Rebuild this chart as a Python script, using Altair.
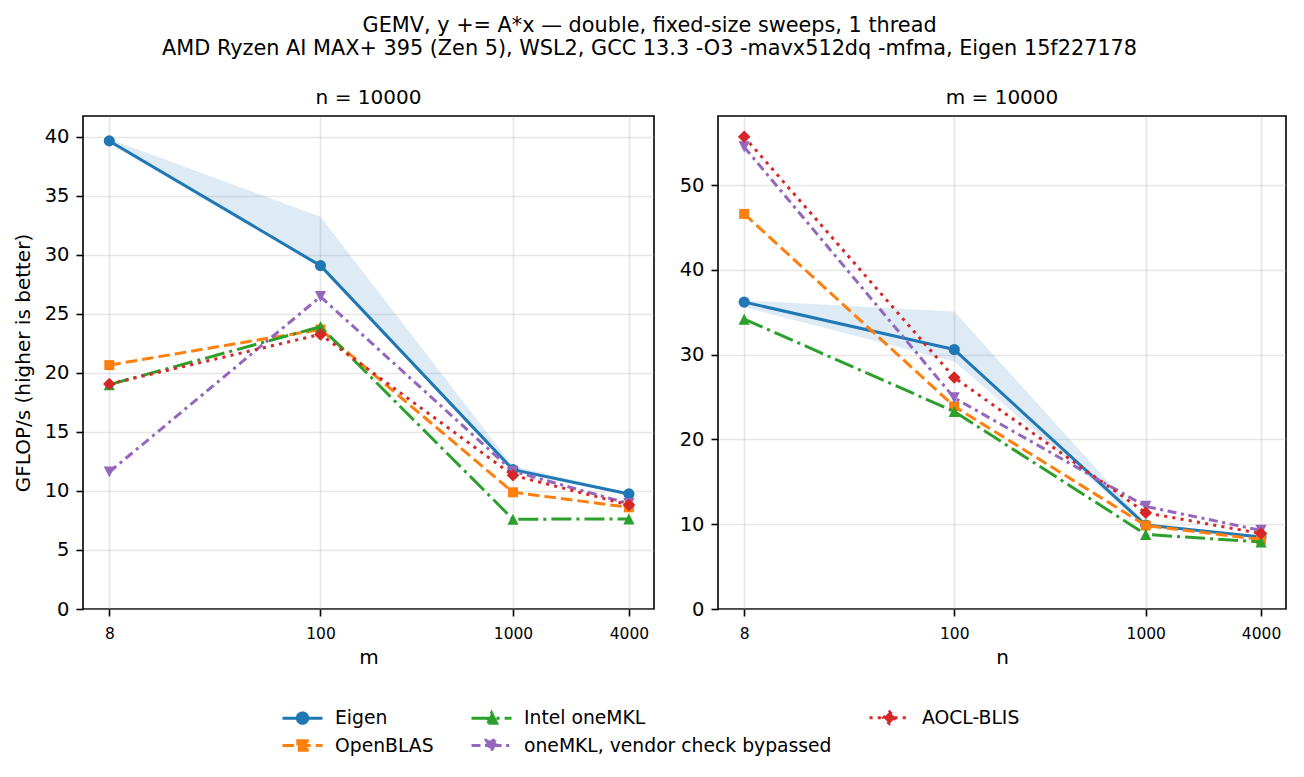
import altair as alt
import pandas as pd

# ---------------- data ----------------
SIZES = [8, 100, 1000, 4000]
LIBS = ["Eigen", "OpenBLAS", "Intel oneMKL", "oneMKL, vendor check bypassed", "AOCL-BLIS"]

# left panel: n = 10000, m swept
L_EIGEN = [39.63, 29.07, 11.80, 9.74]
L_OPENBLAS = [20.65, 23.67, 9.88, 8.61]
L_ONEMKL = [19.00, 23.90, 7.60, 7.63]
L_BYPASS = [11.60, 26.44, 11.66, 8.92]
L_AOCL = [19.05, 23.25, 11.32, 8.81]
L_EIGEN_LO = [39.40, 28.90, 11.60, 9.60]
L_EIGEN_HI = [39.80, 33.20, 12.10, 9.85]

# right panel: m = 10000, n swept
R_EIGEN = [36.20, 30.60, 9.90, 8.48]
R_OPENBLAS = [46.60, 23.90, 9.85, 8.20]
R_ONEMKL = [34.20, 23.30, 8.80, 7.90]
R_BYPASS = [54.50, 24.90, 12.10, 9.27]
R_AOCL = [55.70, 27.30, 11.35, 8.90]
R_EIGEN_LO = [35.60, 29.20, 9.70, 8.40]
R_EIGEN_HI = [36.40, 35.10, 10.10, 8.60]

TITLE_LINES = [
    "GEMV, y += A*x \u2014 double, fixed-size sweeps, 1 thread",
    "AMD Ryzen AI MAX+ 395 (Zen 5), WSL2, GCC 13.3 -O3 -mavx512dq -mfma, Eigen 15f227178",
]

# ---------------- styles ----------------
FONT = "DejaVu Sans"
COLORS = ["#1f77b4", "#ff7f0e", "#2ca02c", "#9467bd", "#d62728"]
DASHES = [[1, 0], [11.6, 5], [20, 5, 3.1, 5], [9, 4.5, 3.1, 4.5], [3.1, 5.2]]
SHAPES = ["circle", "square", "M0,-1L1,1L-1,1Z", "M0,1L1,-1L-1,-1Z", "diamond"]
POINT_SIZES = [125, 100, 125, 125, 160]
LEGEND_SYMBOLS = [
    "M-2,0H2M0.52,0A0.52,0.52,0,1,1,-0.52,0A0.52,0.52,0,1,1,0.52,0Z",
    "M-2,0H2M-0.47,-0.47H0.47V0.47H-0.47Z",
    "M-2,0H2M0,-0.52L0.52,0.52L-0.52,0.52Z",
    "M-2,0H2M0,0.52L0.52,-0.52L-0.52,-0.52Z",
    "M-2,0H2M0,-0.6L0.6,0L0,0.6L-0.6,0Z",
]


def long_df(series):
    rows = []
    for lib, vals in zip(LIBS, series):
        for s, v in zip(SIZES, vals):
            rows.append({"lib": lib, "size": s, "val": v})
    return pd.DataFrame(rows)


# colour scale for the drawn marks (listed in reverse so it is not merged with the legend scales)
color_scale = alt.Scale(domain=LIBS[::-1], range=COLORS[::-1])


def panel(series, lo, hi, ymax, yticks, xtitle, ptitle, ytitle, width, with_legend):
    df = long_df(series)
    band_df = pd.DataFrame({"lib": LIBS[0], "size": SIZES, "lo": lo, "hi": hi})
    xenc = alt.X(
        "size:Q",
        scale=alt.Scale(type="log", domain=[5.84, 5400], nice=False),
        axis=alt.Axis(values=SIZES, format="d", title=xtitle, labelFontSize=15.5,
                      labelFlush=False, labelPadding=10, titlePadding=6, titleFontSize=20),
    )
    yscale = alt.Scale(domain=[0, ymax], nice=False, zero=True)
    yaxis = alt.Axis(values=yticks, title=ytitle, labelFontSize=19.5, labelPadding=7,
                     titlePadding=11, titleFontSize=20)
    col = alt.Color("lib:N", scale=color_scale, legend=None)

    layers = [
        alt.Chart(band_df).mark_area(opacity=0.15).encode(
            x=xenc, y=alt.Y("lo:Q", scale=yscale, axis=yaxis), y2="hi:Q", color=col
        )
    ]
    base = alt.Chart(df)
    for i, lib in enumerate(LIBS):
        sub = base.transform_filter(alt.datum.lib == lib)
        kw = dict(strokeWidth=3, strokeCap="butt", strokeJoin="round")
        if i > 0:
            kw["strokeDash"] = DASHES[i]
        yenc = alt.Y("val:Q", scale=yscale, axis=yaxis)
        layers.append(sub.mark_line(**kw).encode(x=xenc, y=yenc, color=col))
        layers.append(
            sub.mark_point(shape=SHAPES[i], size=POINT_SIZES[i], filled=True, opacity=1)
            .encode(x=xenc, y=yenc, color=col)
        )
    if with_legend:
        leg = alt.Legend(title=None)
        layers.append(
            base.transform_filter("false")
            .mark_point(filled=True, opacity=1, strokeWidth=3)
            .encode(
                fill=alt.Fill("lib:N", scale=alt.Scale(domain=LIBS, range=COLORS), legend=leg),
                stroke=alt.Stroke("lib:N", scale=alt.Scale(domain=LIBS, range=COLORS), legend=leg),
                shape=alt.Shape("lib:N", scale=alt.Scale(domain=LIBS, range=LEGEND_SYMBOLS), legend=leg),
                strokeDash=alt.StrokeDash("lib:N", scale=alt.Scale(domain=LIBS, range=DASHES), legend=leg),
            )
        )
    return alt.layer(*layers).properties(
        width=width,
        height=493,
        title=alt.TitleParams(ptitle, fontSize=20, fontWeight="normal", font=FONT,
                              color="black", baseline="alphabetic", offset=-8.4),
    )


left = panel([L_EIGEN, L_OPENBLAS, L_ONEMKL, L_BYPASS, L_AOCL], L_EIGEN_LO, L_EIGEN_HI,
             41.74, [0, 5, 10, 15, 20, 25, 30, 35, 40], "m", "n = 10000",
             "GFLOP/s (higher is better)", 571, True)
right = panel([R_EIGEN, R_OPENBLAS, R_ONEMKL, R_BYPASS, R_AOCL], R_EIGEN_LO, R_EIGEN_HI,
              58.15, [0, 10, 20, 30, 40, 50], "n", "m = 10000", None, 568, False)

chart = (
    alt.hconcat(left, right, spacing=23)
    .resolve_scale(x="independent", y="independent")
    .properties(
        title=alt.TitleParams(TITLE_LINES, fontSize=20.8, fontWeight="normal", font=FONT,
                              color="black", anchor="middle", lineHeight=23.3, offset=28),
        padding={"left": 4, "top": 6, "right": 5, "bottom": 5},
    )
    .configure(font=FONT)
    .configure_view(stroke="black", strokeWidth=1.6)
    .configure_axis(
        grid=True, gridColor="#b0b0b0", gridOpacity=0.3, gridWidth=1.6,
        domain=False, tickColor="black", tickWidth=1.6, tickSize=7,
        labelColor="black", titleColor="black", labelFont=FONT, titleFont=FONT,
        titleFontWeight="normal",
    )
    .configure_legend(
        orient="none", legendX=208, legendY=590, columns=3, columnPadding=31,
        rowPadding=4, symbolSize=400, symbolStrokeWidth=3, labelFontSize=18.75,
        labelFont=FONT, labelColor="black", labelOffset=21, labelLimit=600,
        padding=0,
    )
)

chart.save("out.html", embed_options={"renderer": "svg", "actions": False})
